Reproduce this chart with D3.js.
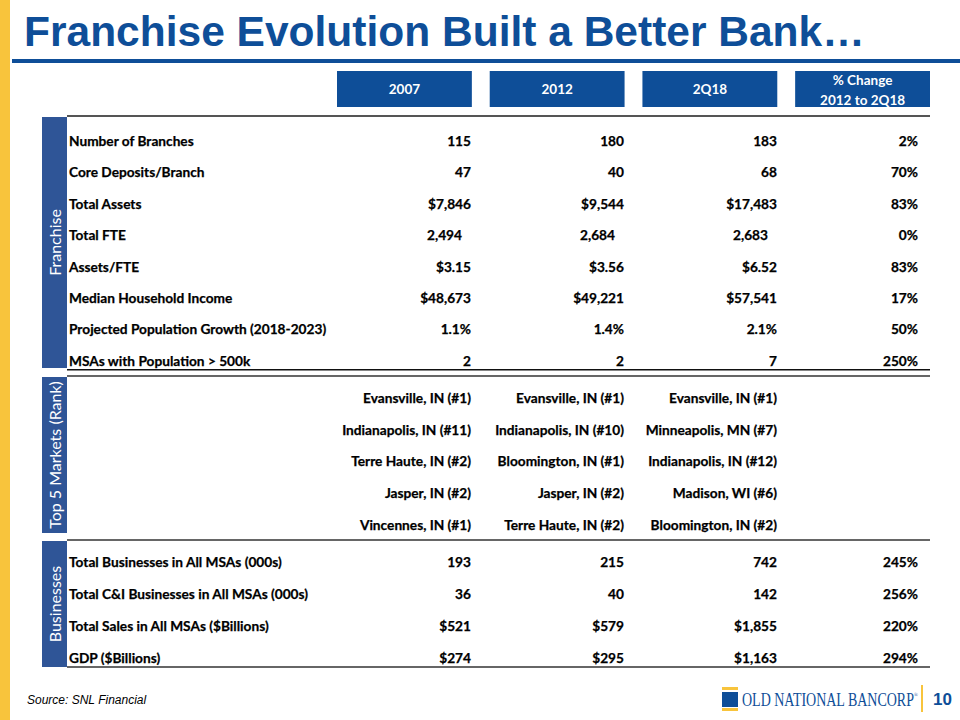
<!DOCTYPE html>
<html>
<head>
<meta charset="utf-8">
<script src="https://cdn.jsdelivr.net/npm/d3@7"></script>
<style>
  body { margin: 0; background: #fff; }
  svg { display: block; }
  .cell { font-family: Lato, "Open Sans", sans-serif; font-weight: bold; font-size: 13.7px; fill: #000; stroke: #000; stroke-width: 0.25px; }
</style>
</head>
<body>
<div id="slide"></div>
<script>
// columns
var columns = ["2007", "2012", "2Q18", "% Change"];
var headerLines = [["2007"], ["2012"], ["2Q18"], ["% Change", "2012 to 2Q18"]];

// franchise block
var franchiseLabels = ["Number of Branches", "Core Deposits/Branch", "Total Assets", "Total FTE",
  "Assets/FTE", "Median Household Income", "Projected Population Growth (2018-2023)", "MSAs with Population > 500k"];
var franchise2007 = ["115", "47", "$7,846", "2,494 ", "$3.15", "$48,673", "1.1%", "2"];
var franchise2012 = ["180", "40", "$9,544", "2,684 ", "$3.56", "$49,221", "1.4%", "2"];
var franchise2Q18 = ["183", "68", "$17,483", "2,683 ", "$6.52", "$57,541", "2.1%", "7"];
var franchiseChange = ["2%", "70%", "83%", "0%", "83%", "17%", "50%", "250%"];

// top 5 markets block
var markets2007 = ["Evansville, IN (#1)", "Indianapolis, IN (#11)", "Terre Haute, IN (#2)", "Jasper, IN (#2)", "Vincennes, IN (#1)"];
var markets2012 = ["Evansville, IN (#1)", "Indianapolis, IN (#10)", "Bloomington, IN (#1)", "Jasper, IN (#2)", "Terre Haute, IN (#2)"];
var markets2Q18 = ["Evansville, IN (#1)", "Minneapolis, MN (#7)", "Indianapolis, IN (#12)", "Madison, WI (#6)", "Bloomington, IN (#2)"];

// businesses block
var businessLabels = ["Total Businesses in All MSAs (000s)", "Total C&I Businesses in All MSAs (000s)",
  "Total Sales in All MSAs ($Billions)", "GDP ($Billions)"];
var business2007 = ["193", "36", "$521", "$274"];
var business2012 = ["215", "40", "$579", "$295"];
var business2Q18 = ["742", "142", "$1,855", "$1,163"];
var businessChange = ["245%", "256%", "220%", "294%"];

var W = 960, H = 720;
var blue = "#0E4E98", sideBlue = "#2F5597", gold = "#F8C43C";

var svg = d3.select("#slide").append("svg")
    .attr("width", W)
    .attr("height", H);

// left gold strip
svg.append("rect").attr("x", 0).attr("y", 0).attr("width", 10).attr("height", H).attr("fill", gold);

// title
svg.append("text")
    .attr("x", 24).attr("y", 46)
    .attr("font-family", "Liberation Sans, Arial, sans-serif")
    .attr("font-weight", "bold")
    .attr("font-size", 42.5)
    .attr("fill", blue)
    .text("Franchise Evolution Built a Better Bank\u2026");
svg.append("rect").attr("x", 12).attr("y", 59).attr("width", W - 12).attr("height", 4).attr("fill", blue);

// column scales
var colRight = d3.scaleOrdinal().domain(columns).range([471, 624, 777, 918]);
var colBox = d3.scaleBand().domain(columns).range([337, 930]).paddingInner(0.117).paddingOuter(0);

var hdr = svg.append("g").selectAll("g")
    .data(columns)
    .enter().append("g")
      .attr("transform", function(d) { return "translate(" + colBox(d) + ",71)"; });
hdr.append("rect")
    .attr("width", colBox.bandwidth())
    .attr("height", 36)
    .attr("fill", blue);
hdr.append("text")
    .attr("class", "cell")
    .attr("x", colBox.bandwidth() / 2)
    .attr("text-anchor", "middle")
    .style("fill", "#fff")
    .style("stroke", "none")
    .style("font-size", "13.5px")
    .each(function(d, i) {
      var lines = headerLines[i], t = d3.select(this);
      lines.forEach(function(l, j) {
        t.append("tspan")
          .attr("x", colBox.bandwidth() / 2)
          .attr("y", lines.length == 1 ? 23 : 14 + j * 20)
          .text(l);
      });
    });

var tableLeft = 67, tableRight = 930;

function hline(y, w, c) {
  svg.append("rect").attr("x", tableLeft).attr("y", y).attr("width", tableRight - tableLeft).attr("height", w).attr("fill", c);
}

function sideBar(y0, y1, label) {
  svg.append("rect").attr("x", 42).attr("y", y0).attr("width", 25).attr("height", y1 - y0).attr("fill", sideBlue);
  svg.append("text")
      .attr("transform", "translate(61," + ((y0 + y1) / 2) + ") rotate(-90)")
      .attr("text-anchor", "middle")
      .attr("font-family", "Lato, 'Open Sans', sans-serif")
      .attr("font-size", 16)
      .attr("fill", "#fff")
      .text(label);
}

function block(labels, cols, y0, y1) {
  var y = d3.scalePoint().domain(d3.range(cols[0].length)).range([y0, y1]);
  var g = svg.append("g");
  if (labels) {
    g.selectAll(".lbl").data(labels).enter().append("text")
        .attr("class", "cell")
        .attr("x", 69)
        .attr("y", function(d, i) { return y(i); })
        .attr("dy", "0.35em")
        .text(function(d) { return d; });
  }
  cols.forEach(function(vals, c) {
    g.selectAll(".c" + c).data(vals).enter().append("text")
        .attr("class", "cell")
        .attr("x", function(d) { return colRight(columns[c]) - (/ $/.test(d) ? 9 : 0); })
        .attr("y", function(d, i) { return y(i); })
        .attr("dy", "0.35em")
        .attr("text-anchor", "end")
        .text(function(d) { return d.trim(); });
  });
}

// franchise
hline(115, 2, "#555");
sideBar(117, 368, "Franchise");
block(franchiseLabels, [franchise2007, franchise2012, franchise2Q18, franchiseChange], 141, 361);
hline(369, 1.5, "#111");

// top 5 markets
hline(375, 2, "#666");
sideBar(377, 533, "Top 5 Markets (Rank)");
block(null, [markets2007, markets2012, markets2Q18], 398, 525);

// businesses
hline(539, 2, "#666");
sideBar(541, 667, "Businesses");
block(businessLabels, [business2007, business2012, business2Q18, businessChange], 562, 658);
hline(666, 2, "#666");

// footer
svg.append("text")
    .attr("x", 27).attr("y", 704)
    .attr("font-family", "Liberation Sans, Arial, sans-serif")
    .attr("font-style", "italic")
    .attr("font-size", 12)
    .attr("fill", "#000")
    .text("Source: SNL Financial");

var logo = svg.append("g");
logo.append("rect").attr("x", 722).attr("y", 687).attr("width", 16).attr("height", 3).attr("fill", gold);
logo.append("rect").attr("x", 722).attr("y", 692).attr("width", 16).attr("height", 15).attr("fill", blue);
logo.append("rect").attr("x", 722).attr("y", 708).attr("width", 16).attr("height", 3).attr("fill", gold);
var logoName = logo.append("text")
    .attr("font-family", "Liberation Serif, 'Times New Roman', serif")
    .attr("font-size", 19)
    .attr("fill", blue);
logoName.append("tspan").text("OLD NATIONAL BANCORP");
logoName.append("tspan").attr("font-size", 7).attr("dy", -9).text("\u00AE");
var nw = logoName.node().getComputedTextLength();
logoName.attr("transform", "translate(742,706) scale(" + (176 / nw) + ",1)");
logo.append("rect").attr("x", 921).attr("y", 685).attr("width", 2).attr("height", 27).attr("fill", gold);
logo.append("text")
    .attr("x", 933).attr("y", 705)
    .attr("font-family", "Liberation Sans, Arial, sans-serif")
    .attr("font-weight", "bold")
    .attr("font-size", 17)
    .attr("fill", blue)
    .text("10");
</script>
</body>
</html>
